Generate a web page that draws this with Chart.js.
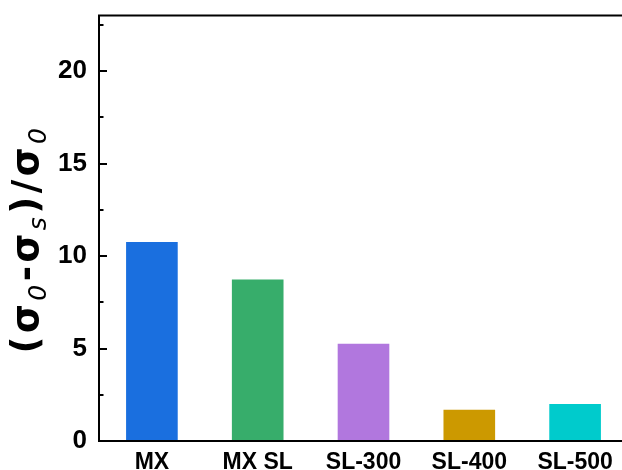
<!DOCTYPE html>
<html>
<head>
<meta charset="utf-8">
<script src="https://cdn.jsdelivr.net/npm/chart.js@4.4.1/dist/chart.umd.min.js"></script>
<style>
  html, body { margin: 0; padding: 0; background: #fff; overflow: hidden; }
  #wrap { width: 634px; height: 470px; position: relative; }
</style>
</head>
<body>
<div id="wrap"><canvas id="c" width="634" height="470"></canvas></div>
<script>
// Samples and their relative change (σ0 - σs)/σ0
const categories = ['MX', 'MX SL', 'SL-300', 'SL-400', 'SL-500'];
const values = [10.81, 8.79, 5.31, 1.75, 2.06];
const barColors = ['#1A6FDF', '#37AD6B', '#B177DE', '#CC9900', '#00CBCC'];
const yMajorTicks = [0, 5, 10, 15, 20];
const yMinorTicks = [2.5, 7.5, 12.5, 17.5, 22.5];
const yMin = 0, yMax = 23;

const FONT = '"Liberation Sans", Arial, sans-serif';
const TITLE_FONT = '"DejaVu Sans", "Liberation Sans", sans-serif';

// Frame, inward ticks and the rotated axis title with subscripts
const framePlugin = {
  id: 'frame',
  afterDraw(chart) {
    const ctx = chart.ctx;
    const a = chart.chartArea;
    const y = chart.scales.y;
    ctx.save();
    ctx.strokeStyle = '#000';
    ctx.lineWidth = 2;
    ctx.beginPath();
    ctx.moveTo(a.right, a.top);
    ctx.lineTo(a.left, a.top);
    ctx.lineTo(a.left, a.bottom);
    ctx.lineTo(a.right, a.bottom);
    ctx.lineTo(a.right, a.top);
    ctx.stroke();
    ctx.beginPath();
    yMajorTicks.forEach(v => {
      const py = Math.round(y.getPixelForValue(v));
      ctx.moveTo(a.left, py);
      ctx.lineTo(a.left + 8, py);
    });
    yMinorTicks.forEach(v => {
      const py = Math.round(y.getPixelForValue(v));
      ctx.moveTo(a.left, py);
      ctx.lineTo(a.left + 4.5, py);
    });
    ctx.stroke();

    // y-axis title: (σ0-σs)/σ0
    const big = 'bold 37px ' + TITLE_FONT;
    const sub = 'oblique 25px ' + TITLE_FONT;
    const gap = 3.5;
    const parts = [
      { t: '(', f: big, dy: 0 },
      { t: 'σ', f: big, dy: 0 },
      { t: '0', f: sub, dy: 8 },
      { t: '-', f: big, dy: 0 },
      { t: 'σ', f: big, dy: 0 },
      { t: 's', f: sub, dy: 8 },
      { t: ')', f: big, dy: 0 },
      { t: '/', f: big, dy: 0 },
      { t: 'σ', f: big, dy: 0 },
      { t: '0', f: sub, dy: 8 }
    ];
    let total = 0;
    parts.forEach(p => { ctx.font = p.f; p.w = ctx.measureText(p.t).width + gap; total += p.w; });
    ctx.translate(38, 239);
    ctx.rotate(-Math.PI / 2);
    ctx.fillStyle = '#000';
    ctx.textBaseline = 'alphabetic';
    let x = -total / 2;
    parts.forEach(p => {
      ctx.font = p.f;
      ctx.fillText(p.t, x, p.dy);
      x += p.w;
    });
    ctx.restore();
  }
};

new Chart(document.getElementById('c'), {
  type: 'bar',
  data: {
    labels: categories,
    datasets: [{
      data: values,
      backgroundColor: barColors,
      borderColor: 'rgba(255,255,255,0.45)',
      borderWidth: 1,
      borderSkipped: false,
      categoryPercentage: 1.0,
      barPercentage: 0.507
    }]
  },
  options: {
    responsive: false,
    animation: false,
    devicePixelRatio: 1,
    layout: { padding: { top: 15.5, right: 6, left: 0, bottom: 0 } },
    plugins: { legend: { display: false }, tooltip: { enabled: false } },
    scales: {
      x: {
        grid: { display: false, drawTicks: false },
        border: { display: false },
        ticks: {
          color: '#000',
          font: { family: FONT, size: 23, weight: 'bold' },
          padding: 8,
          maxRotation: 0,
          autoSkip: false
        },
        afterFit(s) { s.height = 29; s.paddingLeft = 0; s.paddingRight = 0; }
      },
      y: {
        min: yMin,
        max: yMax,
        grid: { display: false, drawTicks: false },
        border: { display: false },
        ticks: {
          stepSize: 5,
          includeBounds: false,
          color: '#000',
          font: { family: FONT, size: 26, weight: 'bold' },
          padding: 12
        },
        afterFit(s) { s.width = 99; s.paddingTop = 0; s.paddingBottom = 0; }
      }
    }
  },
  plugins: [framePlugin]
});
</script>
</body>
</html>
